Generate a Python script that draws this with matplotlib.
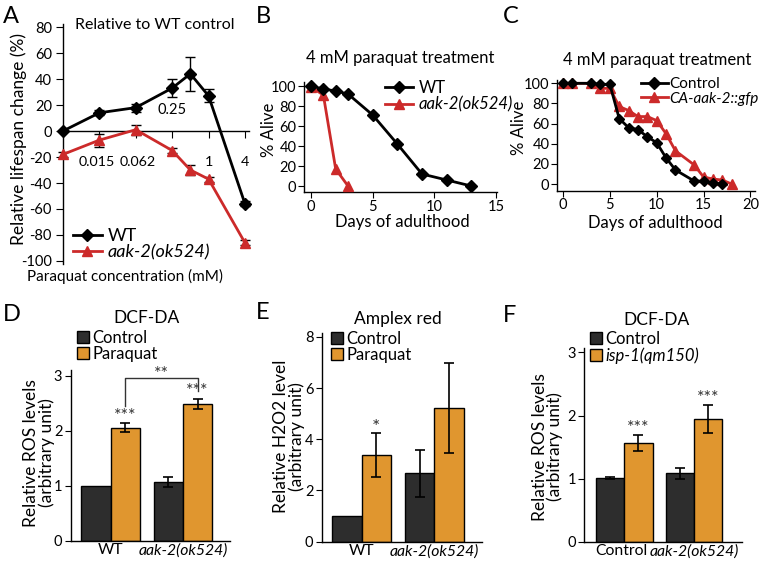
import matplotlib
matplotlib.use('Agg')
import matplotlib.pyplot as plt
from matplotlib.lines import Line2D
from matplotlib.patches import Patch
from matplotlib.transforms import ScaledTranslation
import numpy as np

plt.rcParams['font.family'] = ['Lato', 'DejaVu Sans']
plt.rcParams['axes.unicode_minus'] = False
plt.rcParams['axes.linewidth'] = 1.0

W, H = 763, 561
fig = plt.figure(figsize=(W / 100, H / 100), dpi=100)

BLACK = '#000000'
RED = '#cc2a2a'
DARK = '#2d2d2d'
ORANGE = '#e0962f'
FS = 10.5
TFS = 10.5

# ---------------- data ----------------
# A: relative lifespan change vs paraquat concentration
conc_a = [0, 1 / 64, 1 / 16, 1 / 4, 1 / 2, 1, 4]
conc_tick_vals = [1 / 64, 1 / 16, 1 / 4, 1, 4]
conc_tick_labels = ['0.015', '0.062', '0.25', '1', '4']
wt_a = [0, 14, 18, 33, 44, 27, -56]
wt_a_err = [0, 2, 3, 7, 13, 5, 2]
aak_a = [-18, -7, 1, -15, -30, -37, -86]
aak_a_err = [2, 5, 4, 2, 4, 2, 2]

# B: survival on 4 mM paraquat
days_b_wt = [0, 1, 2, 3, 5, 7, 9, 11, 13]
alive_b_wt = [100, 97, 95, 92, 71, 42, 12, 6, 0]
days_b_aak = [0, 1, 2, 3]
alive_b_aak = [99, 91, 17, 0]

# C: survival on 4 mM paraquat
days_c_ctrl = [0, 1, 3, 4, 5, 6, 7, 8, 9, 10, 11, 12, 14, 15, 16, 17]
alive_c_ctrl = [100, 100, 100, 99, 99, 65, 56, 54, 47, 41, 26, 14, 3, 3, 1, 0]
days_c_ca = [0, 1, 3, 4, 5, 6, 7, 8, 9, 10, 11, 12, 14, 15, 16, 17, 18]
alive_c_ca = [100, 100, 100, 95, 95, 77, 73, 67, 67, 63, 50, 33, 19, 7, 5, 4, 0]

# D: DCF-DA
groups_d = ['WT', 'aak-2(ok524)']
ctrl_d = [1.0, 1.07]
ctrl_d_err = [0.0, 0.09]
para_d = [2.05, 2.485]
para_d_err = [0.08, 0.09]

# E: Amplex red
groups_e = ['WT', 'aak-2(ok524)']
ctrl_e = [1.02, 2.68]
ctrl_e_err = [0.0, 0.92]
para_e = [3.38, 5.23]
para_e_err = [0.85, 1.76]

# F: DCF-DA, isp-1
groups_f = ['Control', 'aak-2(ok524)']
ctrl_f = [1.016, 1.086]
ctrl_f_err = [0.015, 0.09]
isp_f = [1.56, 1.94]
isp_f_err = [0.13, 0.22]


def rect(l, t, r, b):
    return [l / W, 1 - b / H, (r - l) / W, (b - t) / H]


def P(x, y):
    return (x / W, 1 - y / H)


def ftext(x, y, s, **kw):
    return fig.text(x / W, 1 - y / H, s, **kw)


def ylab(ax, x, y, s, fs, **kw):
    ax.set_ylabel(s, fontsize=fs, **kw)
    ax.yaxis.set_label_coords(x / W, 1 - y / H, transform=fig.transFigure)
    ax.yaxis.label.set_rotation_mode('anchor')
    ax.yaxis.label.set_ha('center')
    ax.yaxis.label.set_va('center')


def xlab(ax, x, y, s, fs):
    ax.set_xlabel(s, fontsize=fs)
    ax.xaxis.set_label_coords(x / W, 1 - y / H, transform=fig.transFigure)
    ax.xaxis.label.set_va('center')


def conc_pos(c):
    c = np.asarray(c, dtype=float)
    out = np.zeros_like(c)
    m = c > 0
    out[m] = np.log(c[m]) / np.log(4) + 4
    return out


# ---------------- Panel A ----------------
axA = fig.add_axes(rect(63, 24.4, 248.6, 263.6))
xa = conc_pos(conc_a)
axA.errorbar(xa, wt_a, yerr=wt_a_err, color=BLACK, lw=2, marker='D', ms=6,
             capsize=3.5, elinewidth=1, capthick=1, clip_on=False, zorder=4, label='WT')
axA.errorbar(xa, aak_a, yerr=aak_a_err, color=RED, lw=2, marker='^', ms=7,
             capsize=3.5, elinewidth=1, ecolor=BLACK, capthick=1, clip_on=False, zorder=3,
             label='aak-2(ok524)')
axA.set_xlim(0, 5.1)
axA.set_ylim(-102, 82)
axA.spines['top'].set_visible(False)
axA.spines['right'].set_visible(False)
axA.spines['bottom'].set_position(('data', 0))
axA.set_yticks(np.arange(-100, 81, 20))
tp = conc_pos(conc_tick_vals)
axA.set_xticks(tp)
axA.set_xticklabels([l if l != '0.25' else '' for l in conc_tick_labels])
axA.tick_params(axis='x', length=5, pad=13, labelsize=10.3)
axA.tick_params(axis='y', length=5, labelsize=10.5, pad=3)
# nudge the two crowded labels apart, as in the original
xtl = axA.get_xticklabels()
xtl[0].set_transform(xtl[0].get_transform() + ScaledTranslation(-3 / 100, 0, fig.dpi_scale_trans))
xtl[1].set_transform(xtl[1].get_transform() + ScaledTranslation(2 / 100, 0, fig.dpi_scale_trans))
axA.annotate('0.25', xy=(tp[2], 0), xytext=(0, 15), textcoords='offset points',
             ha='center', va='center', fontsize=10.5)
ylab(axA, 19, 139, 'Relative lifespan change (%)', 12.5)
ftext(125, 276, 'Paraquat concentration (mM)', ha='center', va='center', fontsize=11)
ftext(155, 25, 'Relative to WT control', ha='center', va='center', fontsize=11.5)
hA = [Line2D([], [], color=BLACK, lw=2, marker='D', ms=6),
      Line2D([], [], color=RED, lw=2, marker='^', ms=7)]
legA = axA.legend(hA, ['WT', 'aak-2(ok524)'], loc='lower left',
                  bbox_to_anchor=P(73, 260), bbox_transform=fig.transFigure,
                  frameon=False, fontsize=13, handlelength=1.6, handletextpad=0.3,
                  borderpad=0, borderaxespad=0, labelspacing=0.0)
legA.get_texts()[1].set_style('italic')

# ---------------- Panel B ----------------
axB = fig.add_axes(rect(304, 82, 497.2, 192))
axB.plot(days_b_aak, alive_b_aak, color=RED, lw=2, marker='^', ms=7, clip_on=False, zorder=3)
axB.plot(days_b_wt, alive_b_wt, color=BLACK, lw=2, marker='D', ms=6, clip_on=False, zorder=4)
axB.set_xlim(-0.57, 15.1)
axB.set_ylim(-6, 104)
for s in ['top', 'right']:
    axB.spines[s].set_visible(False)
axB.set_xticks([0, 5, 10, 15])
axB.set_yticks([0, 20, 40, 60, 80, 100])
axB.tick_params(length=4, labelsize=TFS, pad=1.5)
ylab(axB, 269, 130, '% Alive', 12)
xlab(axB, 402.7, 222, 'Days of adulthood', 12)
ftext(400, 58, '4 mM paraquat treatment', ha='center', va='center', fontsize=12)
hB = [Line2D([], [], color=BLACK, lw=2, marker='D', ms=6),
      Line2D([], [], color=RED, lw=2, marker='^', ms=7)]
legB = axB.legend(hB, ['WT', 'aak-2(ok524)'], loc='upper left',
                  bbox_to_anchor=P(385, 80), bbox_transform=fig.transFigure,
                  frameon=False, fontsize=12, handlelength=1.7, handletextpad=0.3,
                  borderpad=0, borderaxespad=0, labelspacing=0.05)
legB.get_texts()[1].set_style('italic')

# ---------------- Panel C ----------------
axC = fig.add_axes(rect(557, 80, 754.7, 190.7))
axC.plot(days_c_ca, alive_c_ca, color=RED, lw=2, marker='^', ms=7, clip_on=False, zorder=3)
axC.plot(days_c_ctrl, alive_c_ctrl, color=BLACK, lw=2, marker='D', ms=5, clip_on=False, zorder=4)
axC.set_xlim(-0.64, 20.46)
axC.set_ylim(-6.6, 103.3)
for s in ['top', 'right']:
    axC.spines[s].set_visible(False)
axC.set_xticks([0, 5, 10, 15, 20])
axC.set_yticks([0, 20, 40, 60, 80, 100])
axC.tick_params(length=4, labelsize=TFS, pad=1.5)
ylab(axC, 519, 128, '% Alive', 12)
xlab(axC, 655, 223, 'Days of adulthood', 12)
ftext(656.7, 60, '4 mM paraquat treatment', ha='center', va='center', fontsize=12)
hC = [Line2D([], [], color=BLACK, lw=2, marker='D', ms=6),
      Line2D([], [], color=RED, lw=2, marker='^', ms=7)]
legC = axC.legend(hC, ['Control', 'CA-aak-2::gfp'], loc='upper left',
                  bbox_to_anchor=P(641, 77), bbox_transform=fig.transFigure,
                  frameon=False, fontsize=11, handlelength=1.75, handletextpad=0.1,
                  borderpad=0, borderaxespad=0, labelspacing=0.05)
legC.get_texts()[1].set_style('italic')


# ---------------- bar panels ----------------
def bar_panel(r, xlim, ylim, yticks, groups, a, aerr, b, berr, title, title_xy,
              ylabel, ylab_xy, leg_labels, leg_xy, leg_italic=False):
    ax = fig.add_axes(r)
    x = np.arange(len(groups))
    bw = 0.405
    ax.bar(x - bw / 2, a, bw, color=DARK, edgecolor=BLACK, lw=1, zorder=2)
    ax.bar(x + bw / 2, b, bw, color=ORANGE, edgecolor=BLACK, lw=1, zorder=2)
    for xi, v, e in zip(x - bw / 2, a, aerr):
        if e > 0:
            ax.errorbar(xi, v, yerr=e, color=BLACK, lw=1.2, capsize=3.5, capthick=1.2, zorder=3)
    for xi, v, e in zip(x + bw / 2, b, berr):
        if e > 0:
            ax.errorbar(xi, v, yerr=e, color=BLACK, lw=1.2, capsize=3.5, capthick=1.2, zorder=3)
    ax.set_xlim(*xlim)
    ax.set_ylim(*ylim)
    for s in ['top', 'right']:
        ax.spines[s].set_visible(False)
    ax.set_xticks(x)
    ax.set_xticklabels(groups)
    for lab in ax.get_xticklabels():
        if 'aak' in lab.get_text():
            lab.set_style('italic')
    ax.tick_params(axis='x', length=0, pad=2, labelsize=11.3)
    ax.tick_params(axis='y', length=4, labelsize=FS, pad=2)
    ax.set_yticks(yticks)
    ylab(ax, ylab_xy[0], ylab_xy[1], ylabel, 12.5, linespacing=0.95)
    ftext(title_xy[0], title_xy[1], title, ha='center', va='center', fontsize=12.5)
    hs = [Patch(facecolor=DARK, edgecolor=BLACK, lw=1),
          Patch(facecolor=ORANGE, edgecolor=BLACK, lw=1)]
    leg = ax.legend(hs, leg_labels, loc='upper left', bbox_to_anchor=P(*leg_xy),
                    bbox_transform=fig.transFigure, frameon=False, fontsize=12,
                    handlelength=0.7, handleheight=0.7, handletextpad=0.2,
                    borderpad=0, borderaxespad=0, labelspacing=0.0)
    if leg_italic:
        leg.get_texts()[1].set_style('italic')
    return ax, x, bw


axD, xD, bwD = bar_panel(rect(70.7, 370, 230, 540.7), (-0.55, 1.65), (0, 3.1), [0, 1, 2, 3],
                         groups_d, ctrl_d, ctrl_d_err, para_d, para_d_err,
                         'DCF-DA', (146.7, 318),
                         'Relative ROS levels\n(arbitrary unit)', (38.7, 453),
                         ['Control', 'Paraquat'], (77, 330))
for xi, v, e in zip(xD + bwD / 2, para_d, para_d_err):
    axD.text(xi, v + e - 0.01, '***', ha='center', va='bottom', fontsize=13, color='#333333')
# bracket
axD.plot([xD[0] + bwD / 2, xD[0] + bwD / 2, xD[1] + bwD / 2, xD[1] + bwD / 2],
         [2.44, 2.96, 2.96, 2.71], color='#333333', lw=1)
axD.text((xD[0] + xD[1]) / 2 + bwD / 2, 2.89, '**', ha='center', va='bottom', fontsize=13,
         color='#333333', clip_on=False)

axE, xE, bwE = bar_panel(rect(321.7, 333, 481.7, 541.7), (-0.551, 1.653), (0, 8.15), [0, 2, 4, 6, 8],
                         groups_e, ctrl_e, ctrl_e_err, para_e, para_e_err,
                         'Amplex red', (398, 319),
                         'Relative H2O2 level\n(arbitrary unit)', (289, 436.7),
                         ['Control', 'Paraquat'], (331, 331))
axE.text(xE[0] + bwE / 2, para_e[0] + para_e_err[0] - 0.12, '*', ha='center', va='bottom',
         fontsize=14, color='#333333')

axF, xF, bwF = bar_panel(rect(584.3, 348, 741.7, 541.7), (-0.571, 1.68), (0, 3.07), [0, 1, 2, 3],
                         groups_f, ctrl_f, ctrl_f_err, isp_f, isp_f_err,
                         'DCF-DA', (656.7, 320),
                         'Relative ROS levels\n(arbitrary unit)', (547.5, 446.7),
                         ['Control', 'isp-1(qm150)'], (590, 331), leg_italic=True)
for xi, v, e in zip(xF + bwF / 2, isp_f, isp_f_err):
    axF.text(xi, v + e - 0.01, '***', ha='center', va='bottom', fontsize=13, color='#333333')
# keep the two F group labels from touching
ftl = axF.get_xticklabels()
ftl[0].set_transform(ftl[0].get_transform() + ScaledTranslation(-3 / 100, 0, fig.dpi_scale_trans))

# panel letters
for s, x, y in [('A', 3, 6), ('B', 256, 6), ('C', 503, 6), ('D', 3, 304), ('E', 256, 302), ('F', 503, 305)]:
    ftext(x, y, s, ha='left', va='top', fontsize=17)

fig.savefig('out.png', dpi=100)
